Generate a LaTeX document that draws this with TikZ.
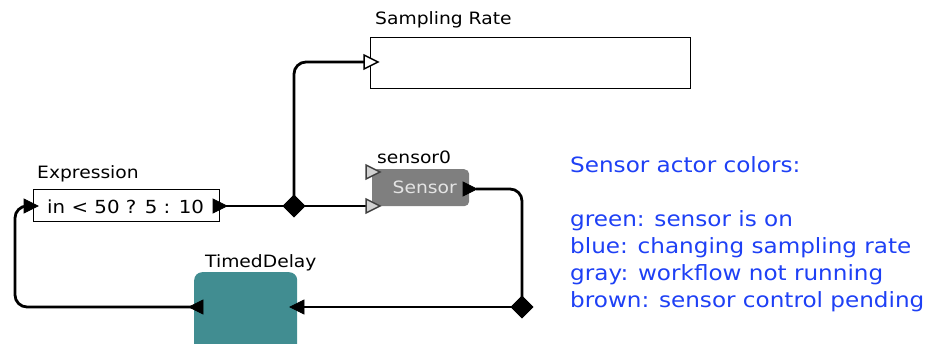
\documentclass[tikz,border=0pt]{standalone}
\usepackage{fontspec}
\setmainfont{DejaVu Sans}[FakeStretch=1.1]
\usetikzlibrary{shapes.geometric}
\definecolor{tealbox}{HTML}{418D91}
\definecolor{sgray}{HTML}{7F7F7F}
\definecolor{stext}{HTML}{E4E4E4}
\definecolor{legblue}{HTML}{1E40F5}
\tikzset{
  lbl/.style={inner sep=0pt, anchor=base west, font=\fontsize{17}{20}\selectfont},
  legend/.style={inner sep=0pt, anchor=base west, text=legblue, font=\fontsize{21}{27}\selectfont},
  wire/.style={line width=2.8pt, rounded corners=12pt},
  pf/.style={fill=black, draw=black, line width=0.8pt, line join=miter},
  po/.style={fill=white, draw=black, line width=1.5pt, line join=miter},
  pg/.style={fill=gray!35, draw=black!75, line width=1.5pt, line join=miter},
  relation/.style={diamond, fill=black, inner sep=0pt, minimum size=23pt},
}
% right-pointing port: style, name, base x, y
\newcommand\rportR[4]{\coordinate (#2) at (#3,#4);
  \path[#1] (#3,{#4-7}) -- ({#3+14},#4) -- (#3,{#4+7}) -- cycle;}
% left-pointing port: style, name, base x, y
\newcommand\rportL[4]{\coordinate (#2) at (#3,#4);
  \path[#1] (#3,{#4-7}) -- ({#3-14},#4) -- (#3,{#4+7}) -- cycle;}
\begin{document}
\begin{tikzpicture}[x=1pt,y=-1pt]
\useasboundingbox (0,0) rectangle (931,343);

% actors
\node[draw, line width=1.4pt, anchor=north west, minimum width=320pt, minimum height=51pt, inner sep=0pt] (sr) at (370,37) {};
\node[lbl] (srl) at (375,24) {Sampling Rate};

\node[draw, line width=1.4pt, anchor=north west, minimum width=186pt, minimum height=32pt, inner sep=0pt] (expr) at (33,189) {};
\node[lbl, font=\fontsize{18}{20}\selectfont] (exprt) at (47,213) {in < 50 ? 5 : 10};
\node[lbl] (exprl) at (37,178) {Expression};

\node[fill=sgray, rounded corners=5pt, anchor=north west, minimum width=97pt, minimum height=37pt, inner sep=0pt,
      text=stext, font=\fontsize{17}{20}\selectfont] (sensor) at (372,169) {\hspace*{8pt}Sensor};
\node[lbl] (sensl) at (377,163) {sensor0};

\node[fill=tealbox, rounded corners=8pt, anchor=north west, minimum width=103pt, minimum height=90pt, inner sep=0pt] (td) at (194,272) {};
\node[lbl] (tdl) at (205,267) {TimedDelay};

% relations
\node[relation] (d1) at (294,206) {};
\node[relation] (d2) at (522,307) {};

% port positions (coordinates used by wires)
\coordinate (eout) at (226,206);
\coordinate (ein) at (26,206);
\coordinate (srin) at (364,62);
\coordinate (sin2) at (366,206);
\coordinate (sout) at (476,189);
\coordinate (tdin) at (304,307);
\coordinate (tdout) at (192,307);

% wires
\draw[wire] (eout) -- (d1.center);
\draw[wire] (d1.center) -- (sin2);
\draw[wire] (d1.center) |- (srin);
\draw[wire] (sout) -| (d2.center);
\draw[wire] (d2.center) -- (tdin);
\draw[wire] (tdout) -- (15,307) |- (ein);

% relations on top
\node[relation] at (d1) {};
\node[relation] at (d2) {};

% ports
\rportR{pf}{p1}{213}{206}
\rportR{pf}{p2}{24}{206}
\rportR{po}{p3}{364}{62}
\rportR{pg}{p4}{366}{172}
\rportR{pg}{p5}{366}{206}
\rportR{pf}{p6}{463}{189}
\rportL{pf}{p7}{304}{307}
\rportL{pf}{p8}{203}{307}

% legend
\node[legend] (lg0) at (570,172) {Sensor actor colors:};
\node[legend] (lg1) at (570,226) {green: sensor is on};
\node[legend] (lg2) at (570,253) {blue: changing sampling rate};
\node[legend] (lg3) at (570,280) {gray: workflow not running};
\node[legend] (lg4) at (570,307) {brown: sensor control pending};
\end{tikzpicture}
\end{document}
